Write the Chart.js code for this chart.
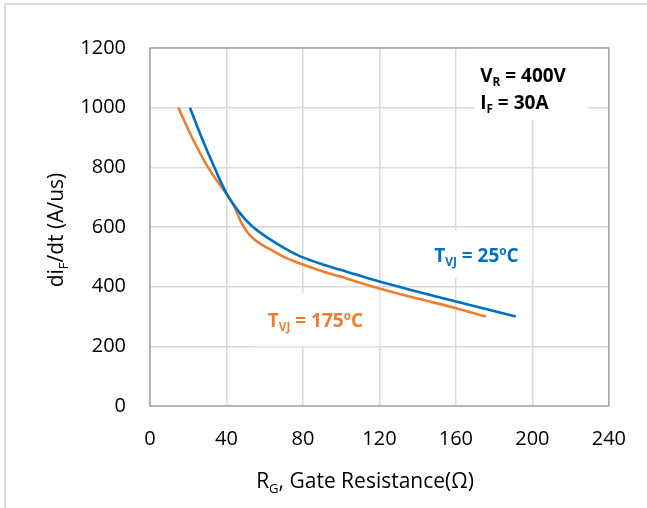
<!DOCTYPE html>
<html>
<head>
<meta charset="utf-8">
<script src="https://cdn.jsdelivr.net/npm/chart.js@4"></script>
<style>
  html, body { margin: 0; padding: 0; background: #fff; }
  #wrap { width: 647px; height: 508px; position: relative; }
</style>
</head>
<body>
<div id="wrap"><canvas id="chart_1"></canvas></div>
<script>
// Dados
const rg25 = [20.9, 27, 34, 40, 46, 53, 62, 71, 80, 90, 100, 120, 140, 160, 191.3];
const didt25 = [1000, 900, 795, 713, 655, 605, 562, 527, 498, 475, 456, 417, 383, 350, 300];

const rg175 = [14.8, 22, 30.4, 40, 44, 48, 52, 56, 62, 70, 80, 90, 100, 120, 140, 160, 175.7];
const didt175 = [1000, 900, 800, 710, 670, 612, 574, 551, 528, 500, 474, 452, 433, 394, 360, 328, 300];

const xTicks = [0, 40, 80, 120, 160, 200, 240];
const yTicks = [0, 200, 400, 600, 800, 1000, 1200];

const FONT = "'Open Sans', 'Liberation Sans', sans-serif";

function pontos(xs, ys) {
    return xs.map((x, i) => ({ x: x, y: ys[i] }));
}

// texto com subscrito / sobrescrito
function textoRico(ctx, partes, x, y, tam, peso, cor) {
    ctx.save();
    ctx.fillStyle = cor;
    ctx.textBaseline = 'alphabetic';
    ctx.textAlign = 'left';
    let px = x;
    partes.forEach(p => {
        let t = tam, dy = 0;
        if (p.sub) { t = tam * 0.62; dy = tam * 0.22; }
        if (p.sup) { t = tam * 0.62; dy = -tam * 0.38; }
        ctx.font = peso + ' ' + t + 'px ' + FONT;
        ctx.fillText(p.t, px, y + dy);
        px += ctx.measureText(p.t).width;
    });
    ctx.restore();
    return px - x;
}

function larguraRica(ctx, partes, tam, peso) {
    let w = 0;
    partes.forEach(p => {
        let t = (p.sub || p.sup) ? tam * 0.62 : tam;
        ctx.font = peso + ' ' + t + 'px ' + FONT;
        w += ctx.measureText(p.t).width;
    });
    return w;
}

// rótulos dentro do gráfico (posição em coordenadas dos dados)
const rotulos = [
    { x: 172.7, y: 1110, cor: '#000000', partes: [{ t: 'V' }, { t: 'R', sub: 1 }, { t: ' = 400V' }] },
    { x: 172.7, y: 1020, cor: '#000000', partes: [{ t: 'I' }, { t: 'F', sub: 1 }, { t: ' = 30A' }] },
    { x: 148.7, y: 507, cor: '#0070C0', partes: [{ t: 'T' }, { t: 'VJ', sub: 1 }, { t: ' = 25' }, { t: 'o', sup: 1 }, { t: 'C' }] },
    { x: 61.6, y: 289, cor: '#ED7D31', partes: [{ t: 'T' }, { t: 'VJ', sub: 1 }, { t: ' = 175' }, { t: 'o', sup: 1 }, { t: 'C' }] }
];
const caixas = [
    { x0: 170, x1: 229, y0: 1200, y1: 960 },
    { x0: 141, x1: 200, y0: 590, y1: 430 },
    { x0: 55, x1: 120, y0: 380, y1: 200 }
];

const decoracao = {
    id: 'decoracao',
    beforeDraw(chart) {
        const ctx = chart.ctx;
        ctx.save();
        ctx.fillStyle = '#fff';
        ctx.fillRect(0, 0, chart.width, chart.height);
        ctx.strokeStyle = '#d0d0d0';
        ctx.lineWidth = 1.5;
        ctx.strokeRect(5, 4, chart.width + 20, chart.height + 20);
        ctx.restore();
    },
    beforeDatasetsDraw(chart) {
        const ctx = chart.ctx, sx = chart.scales.x, sy = chart.scales.y;
        ctx.save();
        ctx.fillStyle = '#fff';
        caixas.forEach(c => {
            const x0 = sx.getPixelForValue(c.x0), x1 = sx.getPixelForValue(c.x1);
            const y0 = sy.getPixelForValue(c.y0), y1 = sy.getPixelForValue(c.y1);
            ctx.fillRect(x0, y0, x1 - x0, y1 - y0);
        });
        const a = chart.chartArea;
        ctx.strokeStyle = '#a6a6a6';
        ctx.lineWidth = 1.5;
        ctx.strokeRect(a.left, a.top, a.right - a.left, a.bottom - a.top);
        ctx.restore();
    },
    afterDatasetsDraw(chart) {
        const ctx = chart.ctx, sx = chart.scales.x, sy = chart.scales.y;
        rotulos.forEach(r => {
            const px = sx.getPixelForValue(r.x);
            const py = sy.getPixelForValue(r.y) + 7;
            textoRico(ctx, r.partes, px, py, 19, 'bold', r.cor);
        });

        // títulos dos eixos
        const tX = [{ t: 'R' }, { t: 'G', sub: 1 }, { t: ', Gate Resistance(Ω)' }];
        const wX = larguraRica(ctx, tX, 21, 'normal');
        textoRico(ctx, tX, 365 - wX / 2, 488, 21, 'normal', '#000');

        const tY = [{ t: 'di' }, { t: 'F', sub: 1 }, { t: '/dt (A/us)' }];
        const wY = larguraRica(ctx, tY, 21, 'normal');
        ctx.save();
        ctx.translate(63, 230);
        ctx.rotate(-Math.PI / 2);
        textoRico(ctx, tY, -wY / 2, 0, 21, 'normal', '#000');
        ctx.restore();
    }
};

const chart1 = new Chart(document.getElementById('chart_1').getContext('2d'), {
    type: 'scatter',
    data: {
        datasets: [{
            label: 'TVJ = 25oC',
            data: pontos(rg25, didt25),
            showLine: true,
            borderColor: '#0070C0',
            borderWidth: 2.6,
            pointRadius: 0,
            cubicInterpolationMode: 'monotone'
        }, {
            label: 'TVJ = 175oC',
            data: pontos(rg175, didt175),
            showLine: true,
            borderColor: '#ED7D31',
            borderWidth: 2.6,
            pointRadius: 0,
            cubicInterpolationMode: 'monotone'
        }]
    },
    options: {
        responsive: true,
        maintainAspectRatio: false,
        animation: false,
        layout: { autoPadding: false, padding: { top: 48, right: 37, left: 0, bottom: 0 } },
        plugins: { legend: { display: false }, tooltip: { enabled: false } },
        scales: {
            x: {
                type: 'linear',
                min: xTicks[0],
                max: xTicks[xTicks.length - 1],
                afterBuildTicks: s => { s.ticks = xTicks.map(v => ({ value: v })); },
                afterFit: s => { s.height = 102; },
                grid: { color: '#d9d9d9', lineWidth: 1.5, drawTicks: false },
                border: { display: false },
                ticks: { color: '#000', padding: 21, maxRotation: 0, font: { family: FONT, size: 20 },
                         callback: v => String(v) }
            },
            y: {
                min: yTicks[0],
                max: yTicks[yTicks.length - 1],
                afterBuildTicks: s => { s.ticks = yTicks.map(v => ({ value: v })); },
                afterFit: s => { s.width = 150; },
                grid: { color: '#d9d9d9', lineWidth: 1.5, drawTicks: false },
                border: { display: false },
                ticks: { color: '#000', padding: 24, font: { family: FONT, size: 20 },
                         callback: v => String(v) }
            }
        }
    },
    plugins: [decoracao]
});
</script>
</body>
</html>
